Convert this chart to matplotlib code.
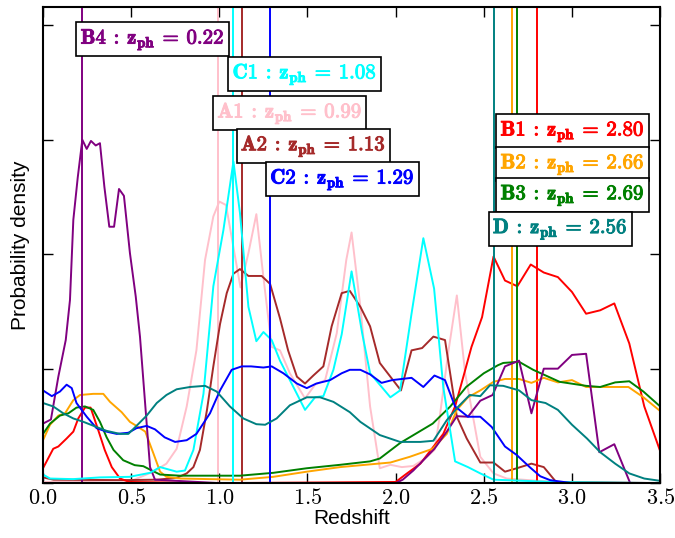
import matplotlib
matplotlib.use('Agg')
import matplotlib.pyplot as plt
import matplotlib.patheffects as pe
from matplotlib.ticker import FuncFormatter

plt.rcParams['mathtext.fontset'] = 'cm'
plt.rcParams['font.family'] = ['Liberation Sans', 'DejaVu Sans']

# photometric redshift probability densities
z_a1 = [0.0, 0.51, 0.626, 0.70, 0.758, 0.815, 0.87, 0.919, 0.966, 1.0, 1.038, 1.08, 1.12, 1.165,
        1.21, 1.25, 1.297, 1.344, 1.40, 1.486, 1.543, 1.60, 1.666, 1.72, 1.75, 1.80, 1.855, 1.91,
        1.97, 2.035, 2.10, 2.167, 2.22, 2.25, 2.30, 2.347, 2.394, 2.48, 2.555, 2.63, 2.9, 3.5]
p_a1 = [0.01, 0.026, 0.10, 0.17, 0.30, 0.67, 1.16, 1.95, 2.33, 2.46, 2.43, 2.06, 1.71, 2.01,
        2.35, 1.80, 1.19, 1.16, 0.96, 0.74, 0.86, 0.90, 1.31, 1.95, 2.19, 1.54, 0.67, 0.13,
        0.16, 0.14, 0.15, 0.215, 0.29, 0.58, 1.16, 1.64, 0.96, 0.23, 0.085, 0.04, 0.01, 0.0]

z_a2 = [0.0, 0.06, 0.455, 0.645, 0.758, 0.815, 0.853, 0.89, 0.93, 0.966, 1.004, 1.042, 1.08,
        1.117, 1.165, 1.24, 1.288, 1.344, 1.39, 1.44, 1.486, 1.533, 1.59, 1.637, 1.694, 1.74,
        1.80, 1.855, 1.91, 1.98, 2.03, 2.09, 2.15, 2.214, 2.28, 2.347, 2.403, 2.48, 2.555, 2.62,
        2.687, 2.77, 2.84, 2.91, 3.5]
p_a2 = [0.05, 0.03, 0.026, 0.03, 0.046, 0.085, 0.14, 0.29, 0.64, 1.02, 1.39, 1.66, 1.83,
        1.87, 1.81, 1.81, 1.74, 1.44, 1.16, 0.93, 0.87, 0.94, 1.02, 1.37, 1.66, 1.68,
        1.54, 1.37, 1.05, 0.91, 0.81, 1.16, 1.18, 1.28, 1.25, 0.58, 0.39, 0.18, 0.18, 0.10,
        0.13, 0.17, 0.14, 0.01, 0.0]

z_b1 = [0.0, 0.058, 0.087, 0.134, 0.172, 0.20, 0.238, 0.27, 0.314, 0.35, 0.39, 0.437, 0.49,
        1.0, 2.0, 2.06, 2.14, 2.20, 2.27, 2.337, 2.384, 2.43, 2.49, 2.555, 2.62, 2.69, 2.766,
        2.84, 2.92, 3.0, 3.08, 3.16, 3.24, 3.325, 3.41, 3.5]
p_b1 = [0.13, 0.30, 0.32, 0.39, 0.45, 0.565, 0.66, 0.66, 0.46, 0.29, 0.14, 0.04, 0.01,
        0.0, 0.01, 0.08, 0.17, 0.29, 0.43, 0.67, 0.93, 1.19, 1.45, 1.98, 1.77, 1.72, 1.91,
        1.84, 1.80, 1.67, 1.48, 1.51, 1.57, 1.22, 0.67, 0.28]

z_b2 = [0.0, 0.04, 0.087, 0.125, 0.172, 0.21, 0.285, 0.342, 0.38, 0.446, 0.493, 0.53, 0.58,
        0.626, 0.664, 0.70, 0.78, 1.117, 1.306, 1.496, 1.685, 1.97, 2.08, 2.21, 2.29, 2.347,
        2.41, 2.48, 2.555, 2.62, 2.70, 2.77, 2.84, 2.92, 3.0, 3.08, 3.16, 3.32, 3.405, 3.5]
p_b2 = [0.375, 0.51, 0.59, 0.61, 0.725, 0.77, 0.78, 0.78, 0.71, 0.62, 0.535, 0.50, 0.45,
        0.26, 0.10, 0.055, 0.04, 0.03, 0.055, 0.10, 0.14, 0.18, 0.23, 0.30, 0.43, 0.64,
        0.75, 0.81, 0.885, 0.91, 0.91, 0.876, 0.92, 0.88, 0.90, 0.84, 0.84, 0.84, 0.75, 0.63]

z_b3 = [0.0, 0.04, 0.096, 0.144, 0.19, 0.238, 0.285, 0.323, 0.361, 0.40, 0.455, 0.52, 0.569,
        0.617, 0.664, 0.777, 1.117, 1.306, 1.496, 1.685, 1.855, 1.91, 2.025, 2.21, 2.31, 2.40,
        2.50, 2.58, 2.61, 2.70, 2.78, 2.93, 3.08, 3.16, 3.245, 3.325, 3.405, 3.5]
p_b3 = [0.43, 0.52, 0.59, 0.61, 0.66, 0.67, 0.64, 0.535, 0.40, 0.29, 0.20, 0.157, 0.148,
        0.11, 0.075, 0.065, 0.065, 0.09, 0.13, 0.16, 0.19, 0.215, 0.35, 0.52, 0.67, 0.84,
        0.96, 1.03, 1.05, 1.06, 0.99, 0.885, 0.85, 0.84, 0.88, 0.89, 0.80, 0.67]

z_b4 = [0.0, 0.045, 0.087, 0.129, 0.153, 0.172, 0.197, 0.223, 0.248, 0.272, 0.299, 0.323,
        0.348, 0.376, 0.403, 0.431, 0.459, 0.493, 0.526, 0.55, 0.579, 0.607, 0.635, 1.0, 2.0,
        2.04, 2.10, 2.157, 2.22, 2.29, 2.347, 2.41, 2.48, 2.55, 2.62, 2.70, 2.77, 2.84, 2.92,
        3.0, 3.08, 3.155, 3.24, 3.33, 3.5]
p_b4 = [0.52, 0.556, 0.93, 1.25, 1.60, 2.30, 2.67, 3.00, 2.92, 2.99, 2.95, 2.97,
        2.59, 2.24, 2.24, 2.57, 2.51, 2.01, 1.63, 1.28, 0.70, 0.14, 0.03, 0.0, 0.0,
        0.03, 0.11, 0.20, 0.30, 0.45, 0.585, 0.58, 0.72, 0.77, 1.02, 1.07, 0.61, 1.00, 1.00,
        1.12, 1.13, 0.27, 0.34, 0.0, 0.0]

z_c1 = [0.0, 0.04, 0.17, 0.323, 0.49, 0.607, 0.664, 0.758, 0.805, 0.853, 0.91, 0.966, 1.023,
        1.08, 1.117, 1.165, 1.21, 1.25, 1.297, 1.344, 1.42, 1.486, 1.543, 1.59, 1.647, 1.694,
        1.75, 1.81, 1.855, 1.97, 2.025, 2.09, 2.157, 2.218, 2.27, 2.337, 2.41, 2.48, 2.555,
        2.9, 3.5]
p_c1 = [0.075, 0.04, 0.035, 0.05, 0.055, 0.09, 0.14, 0.10, 0.11, 0.29, 0.78, 1.72, 2.21,
        2.81, 2.36, 1.54, 1.24, 1.32, 1.25, 1.07, 0.84, 0.64, 0.75, 0.76, 0.99, 1.30,
        1.85, 1.31, 0.96, 0.75, 0.81, 1.48, 2.14, 1.70, 0.84, 0.19, 0.14, 0.085, 0.03,
        0.01, 0.0]

z_c2 = [0.0, 0.05, 0.096, 0.134, 0.163, 0.19, 0.248, 0.304, 0.36, 0.418, 0.484, 0.53, 0.588,
        0.635, 0.69, 0.749, 0.815, 0.87, 0.947, 1.004, 1.07, 1.127, 1.18, 1.25, 1.297, 1.363,
        1.44, 1.496, 1.55, 1.628, 1.694, 1.74, 1.80, 1.855, 1.92, 1.98, 2.035, 2.09, 2.157,
        2.22, 2.28, 2.337, 2.41, 2.48, 2.545, 2.62, 2.687, 2.76, 2.82, 2.876, 3.0, 3.5]
p_c2 = [0.81, 0.76, 0.80, 0.86, 0.83, 0.70, 0.58, 0.48, 0.45, 0.43, 0.44, 0.48, 0.50,
        0.47, 0.40, 0.36, 0.375, 0.43, 0.61, 0.81, 0.99, 1.02, 1.02, 1.01, 1.02, 0.96,
        0.87, 0.83, 0.87, 0.90, 0.96, 0.99, 0.99, 0.95, 0.876, 0.90, 0.91, 0.92, 0.84,
        0.94, 0.90, 0.67, 0.58, 0.58, 0.49, 0.32, 0.245, 0.14, 0.06, 0.026, 0.0, 0.0]

z_d = [0.0, 0.058, 0.115, 0.172, 0.23, 0.304, 0.36, 0.437, 0.484, 0.53, 0.588, 0.645, 0.70,
       0.758, 0.834, 0.919, 0.985, 1.06, 1.136, 1.21, 1.26, 1.325, 1.40, 1.496, 1.571, 1.647,
       1.74, 1.80, 1.91, 2.025, 2.14, 2.214, 2.29, 2.356, 2.42, 2.48, 2.535, 2.61, 2.70, 2.77,
       2.85, 2.92, 3.0, 3.085, 3.16, 3.245, 3.325, 3.41, 3.5]
p_d = [0.70, 0.67, 0.61, 0.565, 0.535, 0.49, 0.457, 0.43, 0.43, 0.50, 0.59, 0.70, 0.77,
       0.82, 0.84, 0.85, 0.80, 0.67, 0.565, 0.515, 0.51, 0.565, 0.68, 0.75, 0.75, 0.71,
       0.62, 0.535, 0.42, 0.36, 0.36, 0.37, 0.55, 0.67, 0.77, 0.76, 0.855, 0.85, 0.81, 0.725,
       0.70, 0.64, 0.51, 0.39, 0.27, 0.17, 0.085, 0.04, 0.02]

names = ['A1', 'A2', 'B1', 'B2', 'B3', 'B4', 'C1', 'C2', 'D']
colors = ['pink', 'brown', 'red', 'orange', 'green', 'purple', 'cyan', 'blue', 'teal']
z_ph = [0.99, 1.13, 2.80, 2.66, 2.69, 0.22, 1.08, 1.29, 2.56]
zs = [z_a1, z_a2, z_b1, z_b2, z_b3, z_b4, z_c1, z_c2, z_d]
ps = [p_a1, p_a2, p_b1, p_b2, p_b3, p_b4, p_c1, p_c2, p_d]
# label box centres in axes fraction
label_pos = [(0.400, 0.777), (0.438, 0.708), (0.858, 0.739), (0.858, 0.670), (0.858, 0.605),
             (0.1775, 0.932), (0.424, 0.859), (0.485, 0.638), (0.838, 0.534)]

fig = plt.figure(figsize=(6.75, 5.38), dpi=100)
ax = fig.add_axes([0.0637, 0.102, 0.9143, 0.885])

for name, c, zp, z, p, pos in zip(names, colors, z_ph, zs, ps, label_pos):
    ax.plot(z, p, color=c, lw=1.4)
    ax.axvline(zp, color=c, lw=1.4)
    t = ax.text(pos[0], pos[1],
                r'$\mathbf{%s}\:{:}\:\mathbf{z_{ph}}\:=\:\mathbf{%.2f}$' % (name, zp), color=c,
                fontsize=15, ha='center', va='center', transform=ax.transAxes,
                bbox=dict(boxstyle='square,pad=0.2', fc='white', ec='black', lw=1.2))
    t.set_path_effects([pe.withStroke(linewidth=0.7, foreground=c)])

ax.set_xlim(0, 3.5)
ax.set_ylim(0, 4.16)
ax.set_xticks([0.0, 0.5, 1.0, 1.5, 2.0, 2.5, 3.0, 3.5])
ax.set_yticks([0, 1, 2, 3, 4])
ax.xaxis.set_major_formatter(FuncFormatter(lambda v, pos: r'$%.1f$' % v))
ax.set_yticklabels([])
ax.tick_params(direction='in', top=True, right=True, length=7, width=1, labelsize=16)
for s in ax.spines.values():
    s.set_linewidth(1.5)
ax.set_xlabel('Redshift', fontsize=15, labelpad=0)
ax.set_ylabel('Probability density', fontsize=15, labelpad=6)

fig.savefig('out.png', dpi=100)
